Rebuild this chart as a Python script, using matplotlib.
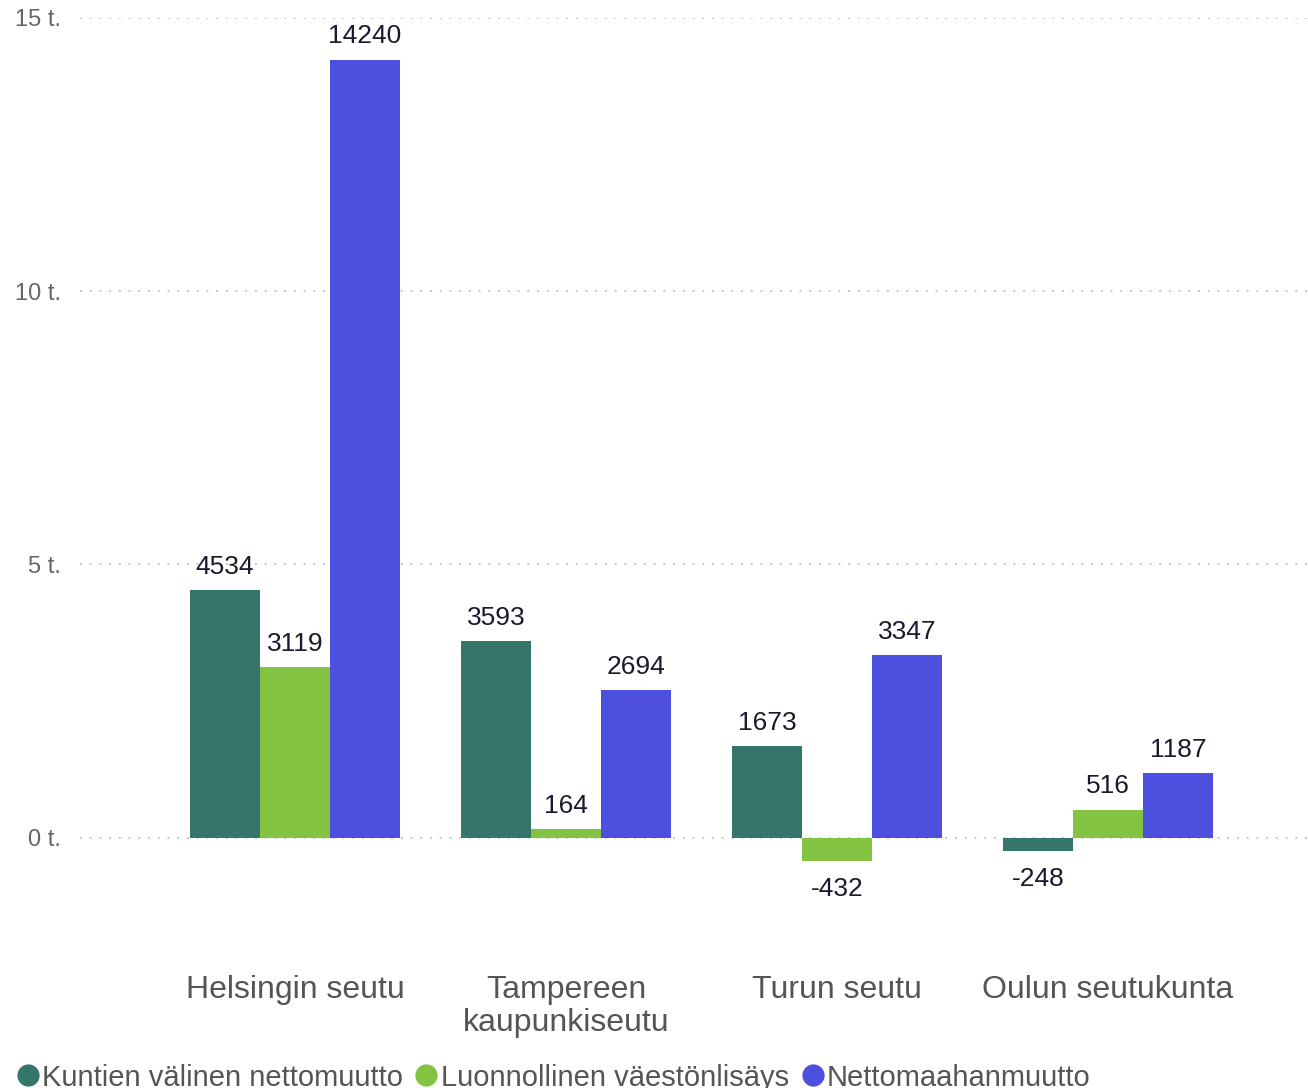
import matplotlib.pyplot as plt
from matplotlib.lines import Line2D
import numpy as np

plt.rcParams['font.family'] = ['Liberation Sans', 'DejaVu Sans']

regions = ["Helsingin seutu", "Tampereen\nkaupunkiseutu", "Turun seutu", "Oulun seutukunta"]
series = ["Kuntien välinen nettomuutto", "Luonnollinen väestönlisäys", "Nettomaahanmuutto"]
kuntien = [4534, 3593, 1673, -248]
luonnollinen = [3119, 164, -432, 516]
maahanmuutto = [14240, 2694, 3347, 1187]
colors = ["#36766a", "#82c341", "#4d4fde"]

yticks = [0, 5000, 10000, 15000]
ytick_labels = ["0 t.", "5 t.", "10 t.", "15 t."]

fig = plt.figure(figsize=(13.08, 10.88), dpi=100)
ax = fig.add_axes([80 / 1308, 1 - 947 / 1088, 1 - 80 / 1308, (947 - 18) / 1088])

x = np.arange(len(regions))
w = 0.258
for i, vals in enumerate([kuntien, luonnollinen, maahanmuutto]):
    bars = ax.bar(x + (i - 1) * w, vals, width=w, color=colors[i], zorder=3)
    for b, v in zip(bars, vals):
        cx = b.get_x() + b.get_width() / 2
        if v >= 0:
            ax.annotate(str(v), (cx, v), xytext=(0, 8), textcoords="offset points",
                        ha="center", va="bottom", fontsize=19, color="#1a1a2e")
        else:
            ax.annotate(str(v), (cx, v), xytext=(0, -11), textcoords="offset points",
                        ha="center", va="top", fontsize=19, color="#1a1a2e")

ax.set_xlim(-0.793, 3.738)
ax.set_ylim(-2000, 15000)
ax.set_yticks(yticks)
ax.set_yticklabels(ytick_labels, fontsize=17, color="#666666")
ax.tick_params(axis="y", length=0, pad=14)
ax.set_xticks(x)
ax.set_xticklabels(regions, fontsize=23, color="#555555", linespacing=1.15)
ax.tick_params(axis="x", length=0, pad=20)
ax.grid(axis="y", color="#c8c8c8", linestyle=(0, (1, 4)), linewidth=1.4, zorder=0)
for s in ax.spines.values():
    s.set_visible(False)

handles = [Line2D([], [], marker="o", linestyle="none", markersize=15, color=c) for c in colors]
fig.legend(handles, series, loc="lower left", bbox_to_anchor=(0.001, -0.014), ncol=3,
           frameon=False, fontsize=21, handletextpad=0.0, columnspacing=0.3,
           handlelength=1.0, borderaxespad=0, labelcolor="#555555")

fig.savefig("out.png", dpi=100)
